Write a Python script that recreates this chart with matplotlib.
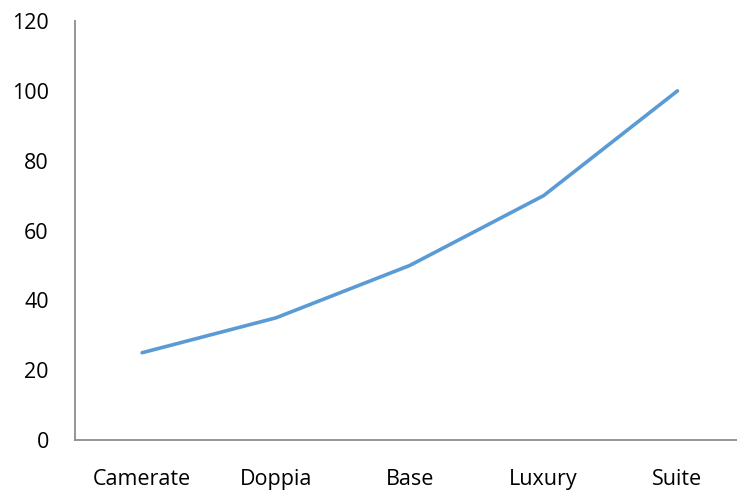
import matplotlib
matplotlib.use("Agg")
import matplotlib.pyplot as plt

categories = ["Camerate", "Doppia", "Base", "Luxury", "Suite"]
values = [25, 35, 50, 70, 100]
y_ticks = [0, 20, 40, 60, 80, 100, 120]

plt.rcParams['font.family'] = ['Open Sans', 'DejaVu Sans']

fig = plt.figure(figsize=(7.37, 4.90), dpi=100)
ax = fig.add_axes([0.102, 0.102, 0.908, 0.855])

x = list(range(len(categories)))
ax.plot(x, values, color='#5B9BD5', linewidth=2.6, solid_capstyle='round')

ax.set_xlim(-0.5, len(categories) - 0.5)
ax.set_ylim(0, 120)
ax.set_yticks(y_ticks)
ax.set_xticks(x)
ax.set_xticklabels(categories)

for side in ['top', 'right']:
    ax.spines[side].set_visible(False)
for side in ['left', 'bottom']:
    ax.spines[side].set_color('#8c8c8c')
    ax.spines[side].set_linewidth(1.3)

ax.tick_params(axis='y', length=0, pad=19, labelsize=15.5, labelcolor='black')
ax.tick_params(axis='x', length=0, pad=21, labelsize=15.5, labelcolor='black')

fig.savefig('out.png', dpi=100)
